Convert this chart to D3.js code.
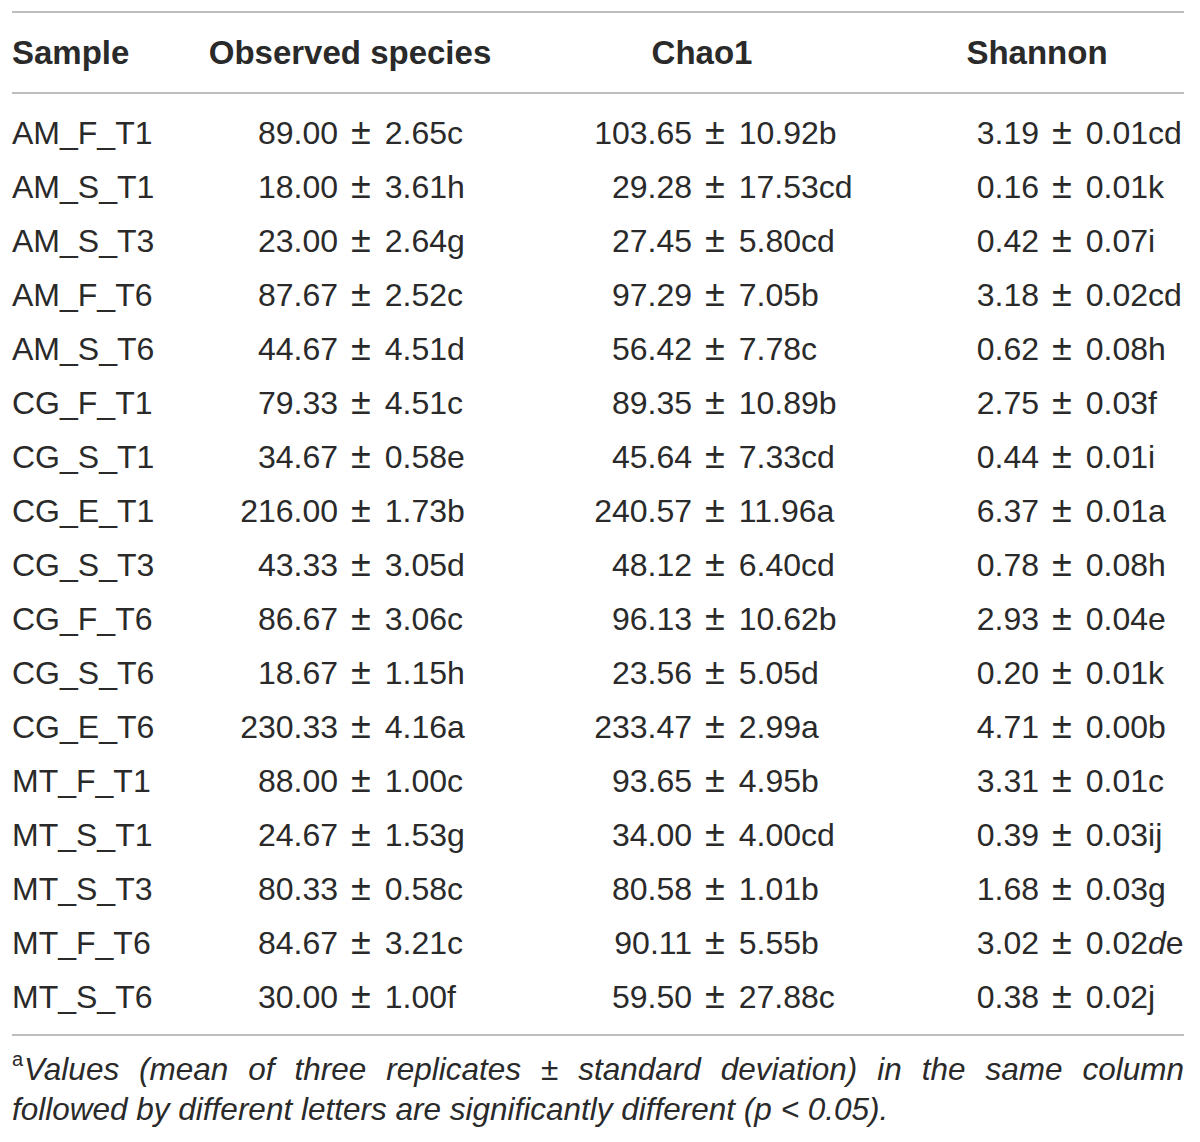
<!DOCTYPE html>
<html>
<head>
<meta charset="utf-8">
<script src="https://cdn.jsdelivr.net/npm/d3@7"></script>
<style>
  body { margin: 0; background: #fff; }
  text { font-family: "Liberation Sans", Arial, sans-serif; fill: #2a2a2a; }
</style>
</head>
<body>
<svg id="table"></svg>
<script>
// Table content
const headers = ["Sample", "Observed species", "Chao1", "Shannon"];

const samples = ["AM_F_T1", "AM_S_T1", "AM_S_T3", "AM_F_T6", "AM_S_T6", "CG_F_T1", "CG_S_T1",
  "CG_E_T1", "CG_S_T3", "CG_F_T6", "CG_S_T6", "CG_E_T6", "MT_F_T1", "MT_S_T1", "MT_S_T3",
  "MT_F_T6", "MT_S_T6"];

const obsMean = [89.00, 18.00, 23.00, 87.67, 44.67, 79.33, 34.67, 216.00, 43.33, 86.67, 18.67, 230.33, 88.00, 24.67, 80.33, 84.67, 30.00];
const obsSd   = [2.65, 3.61, 2.64, 2.52, 4.51, 4.51, 0.58, 1.73, 3.05, 3.06, 1.15, 4.16, 1.00, 1.53, 0.58, 3.21, 1.00];
const obsSig  = ["c", "h", "g", "c", "d", "c", "e", "b", "d", "c", "h", "a", "c", "g", "c", "c", "f"];

const chaoMean = [103.65, 29.28, 27.45, 97.29, 56.42, 89.35, 45.64, 240.57, 48.12, 96.13, 23.56, 233.47, 93.65, 34.00, 80.58, 90.11, 59.50];
const chaoSd   = [10.92, 17.53, 5.80, 7.05, 7.78, 10.89, 7.33, 11.96, 6.40, 10.62, 5.05, 2.99, 4.95, 4.00, 1.01, 5.55, 27.88];
const chaoSig  = ["b", "cd", "cd", "b", "c", "b", "cd", "a", "cd", "b", "d", "a", "b", "cd", "b", "b", "c"];

const shanMean = [3.19, 0.16, 0.42, 3.18, 0.62, 2.75, 0.44, 6.37, 0.78, 2.93, 0.20, 4.71, 3.31, 0.39, 1.68, 3.02, 0.38];
const shanSd   = [0.01, 0.01, 0.07, 0.02, 0.08, 0.03, 0.01, 0.01, 0.08, 0.04, 0.01, 0.00, 0.01, 0.03, 0.03, 0.02, 0.02];
const shanSig  = ["cd", "k", "i", "cd", "h", "f", "i", "a", "h", "e", "k", "b", "c", "ij", "g", "de", "j"];

// one letter in the source is set in italics: [row, column, char index]
const italicChars = [[15, 3, 0]];

const footnoteMark = "a";
const footnoteLines = [
  "Values (mean of three replicates \u00b1 standard deviation) in the same column",
  "followed by different letters are significantly different ("
];

// Layout
const W = 1200, H = 1142;
const left = 12, right = 1184;
const fontSize = 32;
const headerBaseline = 64;
const rowTop = 144, rowStep = 54;

const svg = d3.select("#table")
    .attr("width", W)
    .attr("height", H);

const y = d3.scaleBand()
    .domain(d3.range(samples.length))
    .range([rowTop, rowTop + rowStep * samples.length]);

const fmt = d3.format(".2f");

// rules
[12, 93, 1035].forEach(function(ly) {
  svg.append("line")
      .attr("x1", left).attr("x2", right)
      .attr("y1", ly).attr("y2", ly)
      .attr("stroke", "#bdbdbd")
      .attr("stroke-width", 2);
});

// header row
const headerX = [left, 350, 702, 1037];
headers.forEach(function(h, i) {
  svg.append("text")
      .attr("x", headerX[i])
      .attr("y", headerBaseline)
      .attr("text-anchor", i === 0 ? "start" : "middle")
      .attr("font-size", 33)
      .attr("font-weight", "bold")
      .text(h);
});

// sample names
svg.selectAll("text.sample")
    .data(samples)
  .enter().append("text")
    .attr("class", "sample")
    .attr("x", left)
    .attr("y", function(d, i) { return y(i); })
    .attr("font-size", fontSize)
    .text(function(d) { return d; });

// value columns, aligned on the end of the mean
const columns = [
  {mean: obsMean, sd: obsSd, sig: obsSig, anchor: 338},
  {mean: chaoMean, sd: chaoSd, sig: chaoSig, anchor: 692},
  {mean: shanMean, sd: shanSd, sig: shanSig, anchor: 1039}
];

columns.forEach(function(col, ci) {
  col.mean.forEach(function(m, ri) {
    const yy = y(ri);
    svg.append("text")
        .attr("x", col.anchor)
        .attr("y", yy)
        .attr("text-anchor", "end")
        .attr("font-size", fontSize)
        .text(fmt(m));

    const t = svg.append("text")
        .attr("x", col.anchor + 13)
        .attr("y", yy)
        .attr("font-size", fontSize);
    t.append("tspan").attr("font-size", 36).text("\u00b1");
    t.append("tspan").attr("dx", 14).text(fmt(col.sd[ri]));
    col.sig[ri].split("").forEach(function(ch, k) {
      const it = italicChars.some(function(c) { return c[0] === ri && c[1] === ci + 1 && c[2] === k; });
      t.append("tspan")
          .attr("font-style", it ? "italic" : null)
          .text(ch);
    });
  });
});

// footnote, first line justified to the table width
const footSize = 31.5;
const foot = svg.append("g");

foot.append("text")
    .attr("x", left)
    .attr("y", 1066)
    .attr("font-size", 20)
    .text(footnoteMark);

function justifyLine(str, x0, x1, baseline) {
  const words = str.split(" ");
  const nodes = words.map(function(w) {
    return foot.append("text")
        .attr("y", baseline)
        .attr("font-size", footSize)
        .attr("font-style", "italic")
        .text(w);
  });
  const widths = nodes.map(function(n) { return n.node().getComputedTextLength(); });
  const gap = (x1 - x0 - d3.sum(widths)) / (words.length - 1);
  let x = x0;
  nodes.forEach(function(n, i) {
    n.attr("x", x);
    x += widths[i] + gap;
  });
}

justifyLine(footnoteLines[0], left + 12, right, 1080);

const last = foot.append("text")
    .attr("x", left)
    .attr("y", 1120)
    .attr("font-size", footSize)
    .attr("font-style", "italic");
last.append("tspan").text(footnoteLines[1]);
last.append("tspan").text("p");
last.append("tspan").text(" < 0.05).");
</script>
</body>
</html>
